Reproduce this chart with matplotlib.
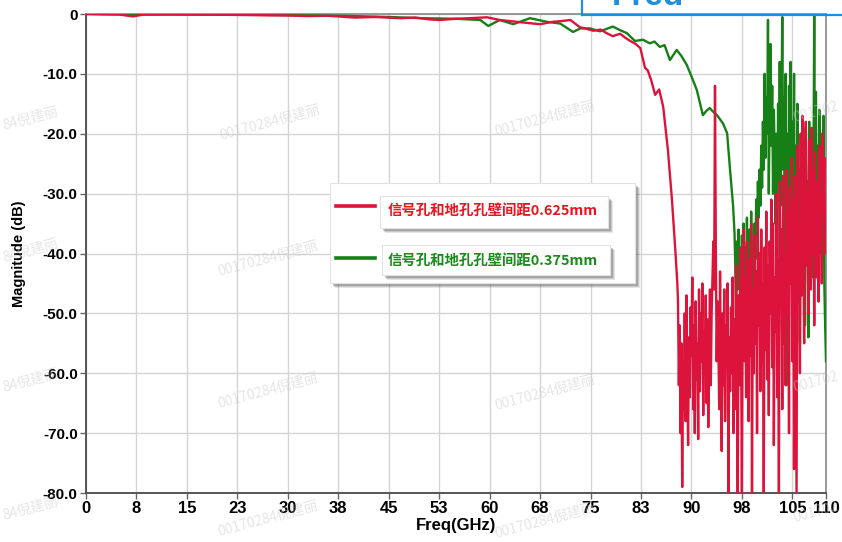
import numpy as np
import matplotlib
matplotlib.use('Agg')
import matplotlib.pyplot as plt
from matplotlib import font_manager
from matplotlib.patches import Rectangle

# smooth part of the traces (GHz, dB)
red_freq = [0, 2, 5, 7, 8.5, 12, 18, 22, 26, 30, 33, 36, 40, 43, 46.7, 49, 51,
            52.6, 55, 57, 59.6, 61.5, 64, 66.5, 67.5, 69.4, 70.5, 72, 73.4,
            74.5, 75.4, 76.5, 77.4, 78.3, 79.4, 80.2, 80.9, 81.7, 82.4, 83.1,
            83.5, 84.0, 84.6, 85.2, 85.8, 86.5, 87.1, 87.6, 87.9]
red_mag = [0, -0.05, -0.1, -0.4, -0.1, -0.05, -0.1, -0.15, -0.2, -0.25, -0.35,
           -0.3, -0.6, -0.5, -0.7, -0.6, -0.9, -1.0, -0.8, -0.7, -0.55, -1.0,
           -1.3, -1.6, -1.7, -1.3, -1.2, -1.0, -2.2, -2.5, -2.8, -2.6, -3.2,
           -3.7, -3.3, -4.0, -4.5, -5.0, -5.7, -9.0, -9.4, -11, -13.5, -12.6,
           -15.5, -22.7, -31, -39.4, -45]

# noisy tail of the red trace, one value every 0.125 GHz from 88 GHz
red_noise_start = 88.0
red_noise = [
    -48, -62, -52, -70, -55, -79, -58, -66,
    -50, -68, -47, -60, -72, -54, -64, -49,
    -57, -44, -66, -52, -70, -48, -61, -55,
    -71, -46, -63, -50, -58, -45, -67, -53,
    -60, -47, -65, -51, -69, -56, -46, -62,
    -50, -44, -38, -46, -12, -40, -58, -48,
    -55, -66, -43, -60, -73, -50, -62, -46,
    -68, -52, -58, -45, -80, -54, -63, -49,
    -60, -44, -70, -51, -66, -42, -57, -80,
    -47, -62, -39, -55, -80, -48, -36, -58,
    -44, -64, -38, -52, -68, -41, -57, -35,
    -80, -46, -60, -37, -55, -43, -70, -34,
    -52, -40, -63, -36, -58, -45, -80, -39,
    -56, -33, -61, -42, -67, -38, -50, -31,
    -59, -35, -72, -44, -53, -30, -64, -41,
    -80, -28, -48, -36, -66, -27, -55, -40,
    -62, -26, -50, -33, -70, -29, -45, -24,
    -58, -31, -76, -27, -52, -80, -22, -44,
    -35, -60, -20, -47, -17, -38, -55, -25,
    -18, -42, -30, -50, -21, -36, -46, -19,
    -40, -26, -52, -23, -34, -44, -28, -48,
    -22, -38, -30, -45, -20, -33, -24, -40, -35,
]

green_freq = [0, 5, 10, 20, 30, 38, 45, 50, 55, 58.6, 59.8, 61.5, 63.5, 66,
              68.5, 70.5, 72.4, 73.5, 74.9, 76.4, 78.3, 79.4, 80.4, 81.6, 82.8,
              83.8, 84.5, 85.3, 86.0, 86.8, 87.8, 88.5, 89.3, 90.1, 90.8, 91.7,
              92.2, 92.7, 93.3, 93.8, 94.7, 95.3, 95.7, 96.2, 96.4]
green_mag = [0, -0.05, -0.1, -0.1, -0.2, -0.3, -0.5, -0.7, -0.8, -1.0, -2.0,
             -1.0, -1.7, -0.7, -1.3, -1.6, -3.0, -2.4, -2.4, -2.9, -2.1, -2.7,
             -3.2, -4.5, -4.3, -4.9, -4.6, -5.5, -5.2, -7.7, -6.0, -7.0, -8.5,
             -10.7, -12.7, -16.9, -16.2, -15.7, -16.4, -16.9, -18.3, -19.9,
             -25.5, -32.2, -36.6]

green_noise_start = 96.5
green_noise = [
    -41, -50, -38, -46, -36, -44, -40, -48,
    -37, -45, -35, -49, -39, -43, -34, -47,
    -40, -36, -46, -33, -42, -38, -48, -35,
    -41, -31, -37, -28, -34, -26, -32, -22,
    -29, -18, -26, -10, -24, -14, -20, -1,
    -30, -14, -5, -22, -12, -30, -16, -24,
    -35, -20, -42, -15, -28, -8, -32, -18,
    -0.5, -26, -14, -40, -10, -62, -20, -45,
    -12, -30, -8, -44, -18, -35, -10, -50,
    -22, -38, -15, -48, -26, -55, -20, -36,
    -30, -46, -24, -52, -19, -40, -28, -54,
    -18, -35, -25, -44, -20, -30, -0.3, -42,
    -13, -36, -22, -48, -16, -28, -40, -20,
    -32, -17, -45, -52, -58,
]

x_ticks = [0, 7.5, 15, 22.5, 30, 37.5, 45, 52.5, 60, 67.5, 75, 82.5, 90, 97.5, 105, 110]
x_labels = ['0', '8', '15', '23', '30', '38', '45', '53', '60', '68', '75', '83',
            '90', '98', '105', '110']
y_ticks = [0, -10, -20, -30, -40, -50, -60, -70, -80]
y_labels = ['0', '-10.0', '-20.0', '-30.0', '-40.0', '-50.0', '-60.0', '-70.0', '-80.0']
legend_labels = ['信号孔和地孔孔壁间距0.625mm', '信号孔和地孔孔壁间距0.375mm']
watermark = '00170284倪建丽'

RED = '#dc143c'
GREEN = '#168016'
CJK = ['Noto Sans CJK SC', 'DejaVu Sans']

names = {f.name for f in font_manager.fontManager.ttflist}
narrow = 'Liberation Sans Narrow' if 'Liberation Sans Narrow' in names else 'Liberation Sans'

W, H = 842, 542


def px(x, y):
    # pixel position (from top-left) -> figure fraction
    return x / W, 1 - y / H


fig = plt.figure(figsize=(W / 100, H / 100), dpi=100)
ax = fig.add_axes([86 / W, 1 - 493 / H, 740 / W, 479 / H])

red_x = np.concatenate([red_freq, red_noise_start + 0.125 * np.arange(len(red_noise))])
red_y = np.concatenate([red_mag, red_noise])
green_x = np.concatenate([green_freq, green_noise_start + 0.125 * np.arange(len(green_noise))])
green_y = np.concatenate([green_mag, green_noise])

ax.plot(green_x, green_y, color=GREEN, lw=1.7, zorder=3)
ax.plot(red_x, red_y, color=RED, lw=1.7, zorder=4)

ax.set_xlim(0, 110)
ax.set_ylim(-80, 0)
ax.set_xticks(x_ticks)
ax.set_xticklabels(x_labels, fontfamily=narrow, fontweight='bold', fontsize=12)
ax.set_yticks(y_ticks)
ax.set_yticklabels(y_labels, fontfamily='Liberation Sans', fontweight='bold', fontsize=11)
ax.tick_params(length=4, width=1, color='#666666', pad=2)
ax.grid(True, color='#d4d4d4', lw=1)
ax.set_axisbelow(True)
for s in ['left', 'bottom']:
    ax.spines[s].set_color('#555555')
    ax.spines[s].set_linewidth(1.4)
for s in ['top', 'right']:
    ax.spines[s].set_color('#888888')
    ax.spines[s].set_linewidth(1.2)

ax.set_xlabel('Freq(GHz)', fontfamily=narrow, fontweight='bold', fontsize=12, labelpad=1)
ax.set_ylabel('Magnitude (dB)', fontfamily='Liberation Sans', fontweight='bold',
              fontsize=10.5, labelpad=12)


def shadow_box(x0, y0, x1, y1, z):
    # white box with a soft grey shadow, coordinates in pixels
    for off, a in [(5, 0.15), (4, 0.2), (3, 0.3)]:
        fx, fy = px(x0 + off, y1 + off)
        fig.add_artist(Rectangle((fx, fy), (x1 - x0) / W, (y1 - y0) / H,
                                 transform=fig.transFigure, facecolor='#555555',
                                 edgecolor='none', alpha=a, zorder=z))
    fx, fy = px(x0, y1)
    fig.add_artist(Rectangle((fx, fy), (x1 - x0) / W, (y1 - y0) / H,
                             transform=fig.transFigure, facecolor='white',
                             edgecolor='#e2e2e2', lw=0.8, zorder=z + 0.1))


# legend
shadow_box(330, 183, 635, 283, 10)
shadow_box(380, 196, 608, 228, 11)
shadow_box(382, 245, 610, 275, 11)
for (ly, ty, col, tcol, lab) in [(206, 211, RED, '#e8141e', legend_labels[0]),
                                 (258, 261, GREEN, '#1a8a1a', legend_labels[1])]:
    fig.add_artist(plt.Line2D([px(336, 0)[0], px(375, 0)[0]], [px(0, ly)[1]] * 2,
                              transform=fig.transFigure, color=col, lw=2.6, zorder=12))
    fig.text(*px(388, ty), lab, color=tcol, fontsize=10.4, fontweight='bold',
             family=CJK, va='center', ha='left', zorder=12)

# watermarks
wm = dict(color='#c8c8c8', alpha=0.45, fontsize=10, family=CJK, rotation=15,
          va='center', zorder=20)
for wx, wy in [(270, 122), (545, 118), (268, 258), (545, 392), (268, 390),
               (545, 520), (268, 518)]:
    fig.text(*px(wx, wy), watermark, ha='center', **wm)
for wy in [118, 250, 380, 508]:
    fig.text(*px(1, wy), watermark[6:], ha='left', **wm)
for wy in [112, 382, 512]:
    fig.text(*px(840, wy), watermark[:6], ha='right', **wm)

# cropped blue annotation box at the top right
fig.add_artist(plt.Line2D([px(582, 0)[0], 1.0], [px(0, 15)[1]] * 2,
                          transform=fig.transFigure, color='#1e8fdc', lw=1.6, zorder=21))
fig.add_artist(plt.Line2D([px(582, 0)[0]] * 2, [px(0, 15)[1], 1.0],
                          transform=fig.transFigure, color='#1e8fdc', lw=1.6, zorder=21))
strip = fig.add_axes([0, 1 - 5 / H, 1, 5 / H], zorder=21)
strip.axis('off')
strip.patch.set_alpha(0)
strip.text(612 / W, 0, 'Freq', transform=strip.transAxes, color='#1e8fdc',
           fontsize=24, fontweight='bold', family='Liberation Sans',
           ha='left', va='baseline', clip_on=True)

fig.savefig('out.png', dpi=100, facecolor='white')
